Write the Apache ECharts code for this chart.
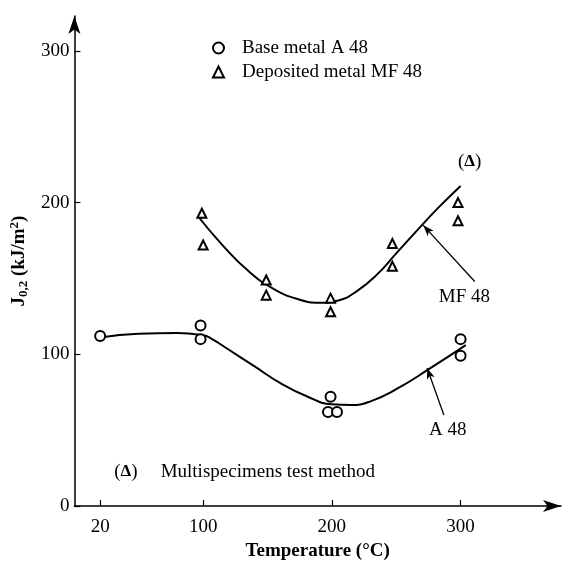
<!DOCTYPE html>
<html>
<head>
<meta charset="utf-8">
<script src="https://cdn.jsdelivr.net/npm/echarts@6/dist/echarts.min.js"></script>
<style>
html, body { margin: 0; padding: 0; background: #fff; }
#chart { width: 570px; height: 566px; }
</style>
</head>
<body>
<div id="chart"></div>
<script>
const xTicks = [20, 100, 200, 300]
const yTicks = [0, 100, 200, 300]

// measured points [temperature, J0,2]
const baseMetal = [[20, 112], [98, 119], [98, 110], [199, 72], [197, 62], [204, 62], [300, 110], [300, 99]]
const depositedMetal = [[99, 193], [100, 172], [149, 149], [149, 139], [199, 137], [199, 128], [247, 173], [247, 158], [298, 200], [298, 188]]

// fitted curves as drawn
const baseCurve = [[20, 111], [50, 113.5], [80, 114], [100, 112.5], [106, 110.5], [120, 103], [140, 92], [160, 81], [180, 72.5], [200, 67], [215, 66.5], [230, 69], [250, 77], [275, 90], [304, 106]]
const depositedCurve = [[96, 191], [115, 172], [135, 155], [155, 143], [175, 136], [190, 134], [205, 135.5], [220, 142], [235, 152.5], [250, 166.5], [265, 180.5], [282, 196], [300, 211]]

// text notes [x, y, text]
const notes = [[307, 227, '({b|Δ})'], [303, 138, 'MF 48'], [290, 50, 'A 48'], [40, 22.5, '({b|Δ})']]
const leftNotes = [[67, 22.5, 'Multispecimens test method']]
// arrows [from, to]
const arrows = [[[311, 148], [271, 185]], [[287, 60], [274, 91]]]

const font = 'Liberation Serif'
const chart = echarts.init(document.getElementById('chart'))

const noteLabel = {
  show: true,
  position: 'inside',
  formatter: '{b}',
  fontFamily: font,
  fontSize: 19,
  color: '#000',
  rich: { b: { fontFamily: font, fontWeight: 'bold', fontSize: 17, color: '#000' } }
}

const option = {
  backgroundColor: '#fff',
  animation: false,
  grid: { left: 74, right: 9, top: 16, bottom: 54 },
  legend: {
    orient: 'vertical',
    left: 207,
    top: 32,
    itemWidth: 11,
    itemHeight: 11,
    itemGap: 2,
    data: ['Base metal A 48', 'Deposited metal MF 48'],
    textStyle: { fontFamily: font, fontSize: 19, color: '#000', lineHeight: 22, padding: [0, 0, 0, 13] }
  },
  xAxis: {
    type: 'value',
    min: 0,
    max: 378,
    name: 'Temperature (°C)',
    nameLocation: 'middle',
    nameGap: 36,
    nameTextStyle: { fontFamily: font, fontWeight: 'bold', fontSize: 19, color: '#000' },
    splitLine: { show: false },
    axisLine: { lineStyle: { color: '#000', width: 1.5 }, symbol: ['none', 'arrow'], symbolSize: [9, 18] },
    axisTick: { inside: true, length: 6, lineStyle: { color: '#000', width: 1.2 }, customValues: xTicks },
    axisLabel: { customValues: xTicks, margin: 12, fontFamily: font, fontSize: 19, color: '#000' }
  },
  yAxis: {
    type: 'value',
    min: 0,
    max: 323,
    name: '{b|J}{s|0,2}{b| (kJ/m}{p|2}{b|)}',
    nameLocation: 'middle',
    nameGap: 40,
    nameTextStyle: {
      rich: {
        b: { fontFamily: font, fontWeight: 'bold', fontSize: 19, color: '#000', lineHeight: 22 },
        s: { fontFamily: font, fontWeight: 'bold', fontSize: 13, color: '#000', lineHeight: 12, verticalAlign: 'bottom' },
        p: { fontFamily: font, fontWeight: 'bold', fontSize: 13, color: '#000', lineHeight: 12, verticalAlign: 'top' }
      }
    },
    splitLine: { show: false },
    axisLine: { lineStyle: { color: '#000', width: 1.5 }, symbol: ['none', 'arrow'], symbolSize: [9, 18] },
    axisTick: { inside: true, length: 6, lineStyle: { color: '#000', width: 1.2 }, customValues: yTicks },
    axisLabel: { customValues: yTicks, margin: 5, fontFamily: font, fontSize: 19, color: '#000' }
  },
  series: [
    {
      name: 'A 48 curve',
      type: 'line',
      data: baseCurve,
      smooth: 0.5,
      symbol: 'none',
      lineStyle: { color: '#000', width: 2 }
    },
    {
      name: 'MF 48 curve',
      type: 'line',
      data: depositedCurve,
      smooth: 0.5,
      symbol: 'none',
      lineStyle: { color: '#000', width: 2 },
      markLine: {
        silent: true,
        symbol: ['none', 'arrow'],
        symbolSize: [6, 11],
        label: { show: false },
        lineStyle: { color: '#000', width: 1.3, type: 'solid' },
        data: arrows.map(a => [{ coord: a[0] }, { coord: a[1] }])
      }
    },
    {
      name: 'Base metal A 48',
      type: 'scatter',
      data: baseMetal,
      symbol: 'circle',
      symbolSize: 10,
      itemStyle: { color: '#fff', borderColor: '#000', borderWidth: 2, opacity: 1 },
      z: 5
    },
    {
      name: 'Deposited metal MF 48',
      type: 'scatter',
      data: depositedMetal,
      symbol: 'triangle',
      symbolSize: 9,
      itemStyle: { color: '#fff', borderColor: '#000', borderWidth: 2, opacity: 1 },
      z: 5
    },
    {
      name: 'notes',
      type: 'scatter',
      symbolSize: 0,
      silent: true,
      itemStyle: { opacity: 1 },
      data: notes.map(n => ({ name: n[2], value: [n[0], n[1]] })),
      label: noteLabel
    },
    {
      name: 'left notes',
      type: 'scatter',
      symbolSize: 0,
      silent: true,
      itemStyle: { opacity: 1 },
      data: leftNotes.map(n => ({ name: n[2], value: [n[0], n[1]] })),
      label: Object.assign({}, noteLabel, { position: 'right', distance: 0 })
    }
  ]
}

chart.setOption(option)
</script>
</body>
</html>
